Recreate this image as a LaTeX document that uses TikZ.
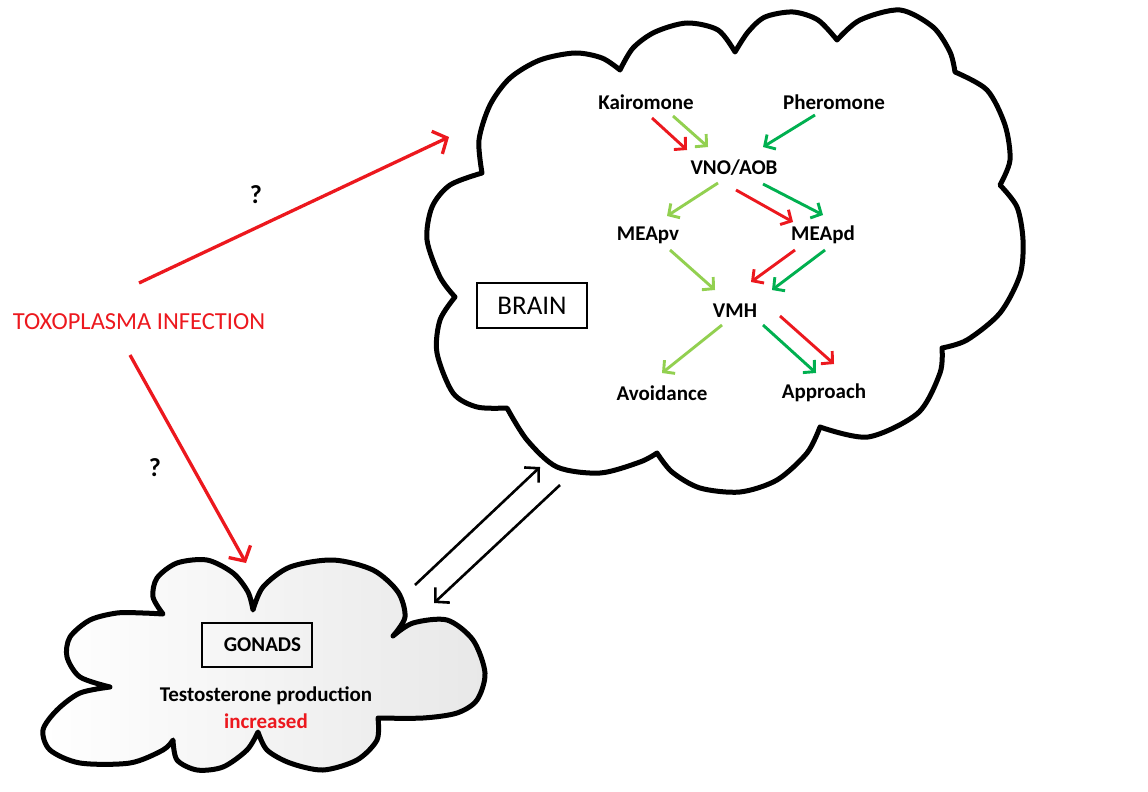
\documentclass[tikz,border=0pt]{standalone}
\usepackage{fontspec}
\setmainfont{Carlito}
\usetikzlibrary{arrows.meta}
\definecolor{tred}{RGB}{236,24,30}
\definecolor{lgreen}{RGB}{146,208,80}
\definecolor{dgreen}{RGB}{0,176,80}
\begin{document}
\begin{tikzpicture}[x=1pt,y=-1pt,
  cloudline/.style={line width=5pt, line join=round, draw=black},
  lbl/.style={font=\fontsize{21}{24}\selectfont\bfseries, inner sep=0pt},
  sarr/.style={line width=2.9pt, -{Straight Barb[length=8pt,width=17pt]}},
  bigarr/.style={line width=3.3pt, draw=tred, -{Straight Barb[length=11pt,width=25pt]}},
  barr/.style={line width=2.6pt, draw=black, -{Straight Barb[length=10pt,width=21pt]}},
  boxnode/.style={draw, line width=2.8pt, inner sep=0pt}
]
\useasboundingbox (0,0) rectangle (1148,792);

% ---------- brain cloud ----------
\draw[cloudline, fill=white]
  plot[smooth] coordinates {(482,173) (479,140) (490,105) (510,78) (540,60) (575,53) (602,58) (620,70)}
  -- plot[smooth] coordinates {(620,70) (633,48) (655,32) (687,23) (718,30) (735,52)}
  -- plot[smooth] coordinates {(735,52) (748,32) (765,17) (793,12) (818,20) (837,40)}
  -- plot[smooth] coordinates {(837,40) (860,20) (900,10) (933,27) (950,52) (955,72)}
  -- plot[smooth] coordinates {(955,72) (987,90) (1005,125) (1010,160) (1000,185)}
  -- plot[smooth] coordinates {(1000,185) (1017,207) (1023,240) (1020,275) (1000,313) (967,340) (942,348)}
  -- plot[smooth] coordinates {(942,348) (940,373) (918,413) (868,437) (820,427)}
  -- plot[smooth] coordinates {(820,427) (807,453) (777,480) (740,492) (700,488) (672,472) (657,453)}
  -- plot[smooth] coordinates {(657,453) (640,462) (600,473) (557,467) (527,440) (507,408)}
  -- plot[smooth] coordinates {(507,408) (477,407) (453,393) (437,353) (440,320) (455,297)}
  -- plot[smooth] coordinates {(455,297) (440,277) (427,240) (432,207) (450,185) (482,173)}
  -- cycle;

% ---------- gonads cloud ----------
\draw[cloudline, shading=axis, shading angle=60, left color=white, right color=black!9]
  plot[smooth] coordinates {(163,614) (153,597) (157,578) (177,563) (207,560) (233,573) (248,592) (253,610)}
  -- plot[smooth] coordinates {(253,610) (263,587) (290,567) (333,560) (373,570) (398,592) (405,617) (393,636)}
  -- plot[smooth] coordinates {(393,636) (413,623) (447,620) (473,640) (485,673) (477,700) (457,713) (423,718) (378,718)}
  -- plot[smooth] coordinates {(378,718) (377,740) (357,760) (323,770) (290,763) (267,750) (258,732)}
  -- plot[smooth] coordinates {(258,732) (247,750) (223,767) (197,770) (177,760) (173,740)}
  -- plot[smooth] coordinates {(173,740) (163,750) (130,763) (80,763) (50,750) (43,730) (57,710) (80,693) (110,687)}
  -- plot[smooth] coordinates {(110,687) (80,677) (67,657) (70,637) (90,620) (117,613) (143,613) (163,614)}
  -- cycle;

% ---------- text nodes ----------
\node[font=\fontsize{24.5}{27}\selectfont, text=tred, inner sep=0pt] (tox) at (139,322) {TOXOPLASMA INFECTION};
\node[lbl, font=\fontsize{26}{28}\selectfont\bfseries] (q1) at (256,195) {?};
\node[lbl, font=\fontsize{26}{28}\selectfont\bfseries] (q2) at (155,468) {?};

\node[boxnode, minimum width=110pt, minimum height=45pt, font=\fontsize{27}{30}\selectfont] (brain) at (532,305.5) {BRAIN};

\node[lbl] (kai) at (646,102) {Kairomone};
\node[lbl] (pher) at (834,102) {Pheromone};
\node[lbl] (vno) at (734,168) {VNO/AOB};
\node[lbl] (meapv) at (648,235) {MEApv};
\node[lbl] (meapd) at (823,235) {MEApd};
\node[lbl] (vmh) at (735,311) {VMH};
\node[lbl] (avoid) at (662,393) {Avoidance};
\node[lbl] (appr) at (824,393) {Approach};

\node[boxnode, minimum width=110pt, minimum height=44pt, font=\fontsize{21}{24}\selectfont\bfseries] (gonads) at (257,645) {\hspace*{11pt}GONADS};
\node[lbl] (testo) at (266,696) {Testosterone production};
\node[lbl, text=tred] (incr) at (266,721) {increased};

% ---------- connector end points ----------
\coordinate (t1s) at (139,283);  \coordinate (t1e) at (449,137);
\coordinate (t2s) at (130,355);  \coordinate (t2e) at (246,563);
\coordinate (gbs) at (415,585);  \coordinate (gbe) at (540,467);
\coordinate (bgs) at (560,485);  \coordinate (bge) at (434,603);

\coordinate (kvrs) at (652,118); \coordinate (kvre) at (687,150);
\coordinate (kvgs) at (673,116); \coordinate (kvge) at (708,147);
\coordinate (pvs) at (815,115);  \coordinate (pve) at (763,147);
\coordinate (vps) at (718,183);  \coordinate (vpe) at (667,216);
\coordinate (vdrs) at (736,190); \coordinate (vdre) at (793,222);
\coordinate (vdgs) at (763,184); \coordinate (vdge) at (823,215);
\coordinate (pms) at (670,250);  \coordinate (pme) at (715,290);
\coordinate (dmrs) at (795,250); \coordinate (dmre) at (751,282);
\coordinate (dmgs) at (825,250); \coordinate (dmge) at (772,290);
\coordinate (mas) at (722,325);  \coordinate (mae) at (662,373);
\coordinate (mpgs) at (763,325); \coordinate (mpge) at (816,373);
\coordinate (mprs) at (780,316); \coordinate (mpre) at (834,364);

% ---------- connectors ----------
\draw[bigarr] (t1s) -- (t1e);
\draw[bigarr] (t2s) -- (t2e);
\draw[barr] (gbs) -- (gbe);
\draw[barr] (bgs) -- (bge);

\draw[sarr, tred]   (kvrs) -- (kvre);
\draw[sarr, lgreen] (kvgs) -- (kvge);
\draw[sarr, dgreen] (pvs) -- (pve);
\draw[sarr, lgreen] (vps) -- (vpe);
\draw[sarr, tred]   (vdrs) -- (vdre);
\draw[sarr, dgreen] (vdgs) -- (vdge);
\draw[sarr, lgreen] (pms) -- (pme);
\draw[sarr, tred]   (dmrs) -- (dmre);
\draw[sarr, dgreen] (dmgs) -- (dmge);
\draw[sarr, lgreen] (mas) -- (mae);
\draw[sarr, dgreen] (mpgs) -- (mpge);
\draw[sarr, tred]   (mprs) -- (mpre);
\end{tikzpicture}
\end{document}
